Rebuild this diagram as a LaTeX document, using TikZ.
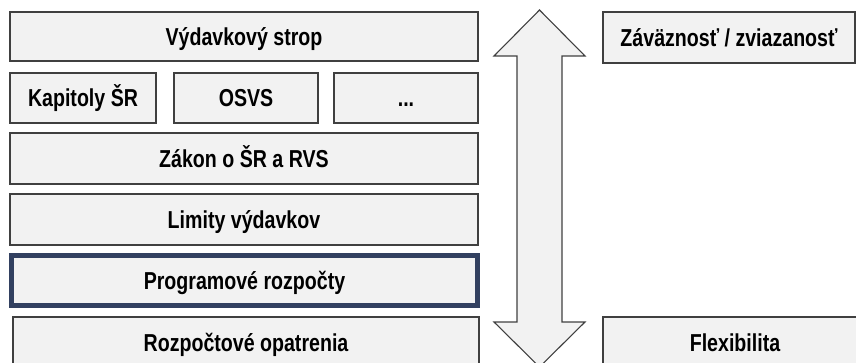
\documentclass[tikz,border=0pt]{standalone}
\usepackage{fontspec}
\setmainfont{Liberation Sans}[FakeStretch=0.80]
\usepackage{tikz}

\definecolor{boxfill}{RGB}{242,242,242}
\definecolor{boxline}{RGB}{64,64,64}
\definecolor{navyline}{RGB}{50,64,96}

\begin{document}
\begin{tikzpicture}[x=1pt,y=-1pt]
  \tikzset{BoxStyle/.style = {
    shape         = rectangle,
    draw          = boxline,
    fill          = boxfill,
    line width    = 1.3pt,
    text          = black,
    font          = \fontsize{24.5}{28}\selectfont\bfseries,
    text height   = 17.5pt,
    text depth    = 0pt,
    inner sep     = 0pt,
    outer sep     = 0pt,
    minimum height = 50pt
    }
  }
  \tikzset{BoxStyleProg/.style = {
    BoxStyle,
    draw          = navyline,
    line width    = 5pt,
    }
  }
  \tikzset{ArrowStyle/.style = {
    draw          = boxline,
    fill          = boxfill,
    line width    = 1.1pt,
    line join     = miter
    }
  }

  \clip (0,0) rectangle (856,363);

  \node[BoxStyle, minimum width=468pt, minimum height=49pt](strop) at (244, 36.5) {Výdavkový strop};
  \node[BoxStyle, minimum width=146pt](kapitoly) at (83, 98) {Kapitoly ŠR};
  \node[BoxStyle, minimum width=144pt](osvs) at (246, 98) {OSVS};
  \node[BoxStyle, minimum width=144pt](dalsie) at (406, 98) {...};
  \node[BoxStyle, minimum width=468pt, minimum height=51pt](zakon) at (244, 158.5) {Zákon o ŠR a RVS};
  \node[BoxStyle, minimum width=468pt, minimum height=51pt](limity) at (244, 219.5) {Limity výdavkov};
  \node[BoxStyleProg, minimum width=466pt](program) at (244.5, 280.5) {Programové rozpočty};
  \node[BoxStyle, minimum width=466pt, minimum height=51pt](opatrenia) at (246, 342.5) {Rozpočtové opatrenia};

  \node[BoxStyle, minimum width=252pt, minimum height=51pt](zavaznost) at (729, 37.5) {Záväznosť / zviazanosť};
  \node[BoxStyle, minimum width=264pt, minimum height=51pt](flexibilita) at (735, 342.5) {Flexibilita};

  % obojsmerna sipka
  \draw[ArrowStyle] (539.5,10) -- (585,56) -- (562,56) -- (562,322) -- (585,322)
    -- (539.5,367) -- (494,322) -- (517,322) -- (517,56) -- (494,56) -- cycle;

\end{tikzpicture}
\end{document}
